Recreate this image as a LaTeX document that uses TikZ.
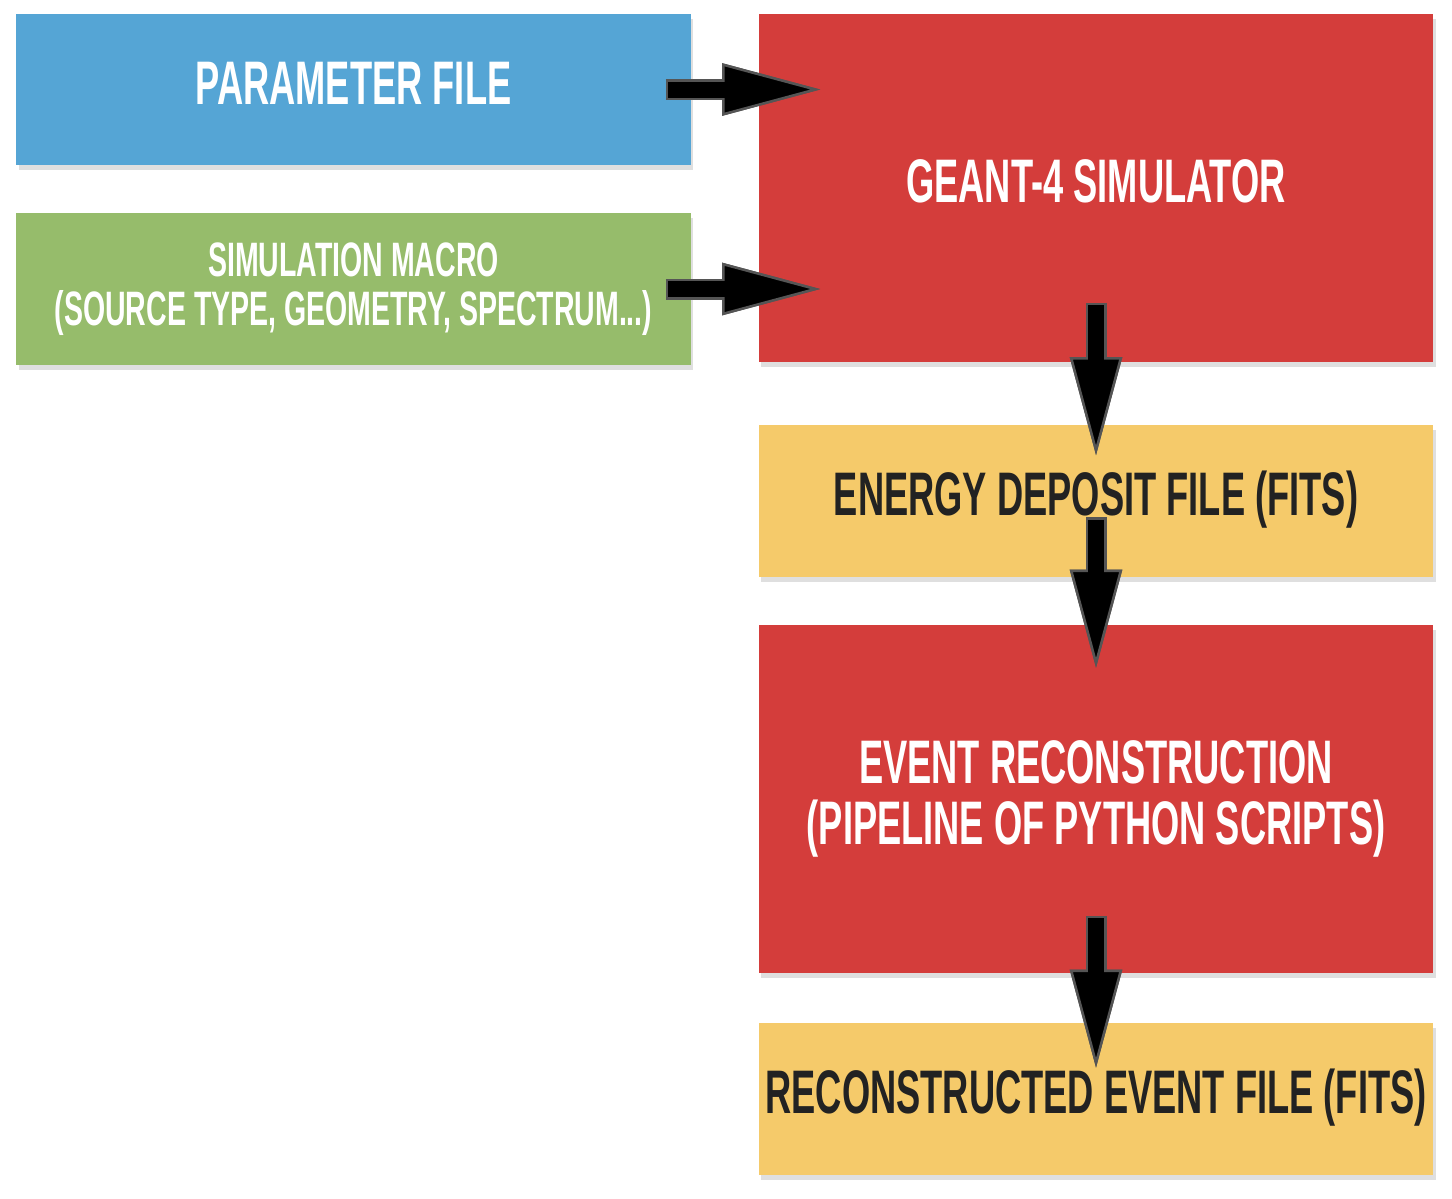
\documentclass[tikz,border=0pt]{standalone}
\usepackage{fontspec}
\setmainfont{Liberation Sans}[FakeStretch=0.59]
\usetikzlibrary{arrows.meta, positioning, calc, shadows}
\definecolor{cblue}{HTML}{55A5D5}
\definecolor{cgreen}{HTML}{96BC6B}
\definecolor{cred}{HTML}{D43D3B}
\definecolor{cyellow}{HTML}{F5CA6A}
\definecolor{cdark}{HTML}{222222}
\definecolor{cgrey}{HTML}{555555}
\tikzset{
  every picture/.style={x=0.02cm, y=-0.02cm},
  box/.style={fill=#1, draw=none, align=center, inner sep=0pt, minimum width=13.5cm,
    drop shadow={shadow xshift=0.05cm, shadow yshift=-0.1cm, opacity=0.25}},
  short/.style={minimum height=3.04cm},
  tall/.style={minimum height=6.96cm},
  big/.style={font=\fontsize{35}{35}\selectfont\bfseries},
  oneline/.style={text height=0.9cm, text depth=0.32cm},
  small/.style={font=\fontsize{27.5}{27.5}\selectfont\bfseries},
  fatarrow/.style={draw=black, line width=0.32cm,
    -{Triangle[length=1.96cm, width=1.04cm, line width=0.05cm, color=cgrey, fill=black]},
    preaction={draw=cgrey, line width=0.42cm, shorten <=-0.05cm,
      -{Triangle[length=1.96cm, width=1.04cm, line width=0.05cm, color=cgrey]}},
    postaction={draw=black, line width=0.32cm, -, shorten >=1.5cm}},
}

\begin{document}
\begin{tikzpicture}
  \useasboundingbox (0,0) rectangle (1452,1198);
  % inputs
  \node[box=cblue, short, big, oneline, text=white] (param) at (353.5,89.5) {PARAMETER FILE};
  \node[box=cgreen, short, small, text=white] (macro) at (353.5,289) {SIMULATION MACRO\\(SOURCE TYPE, GEOMETRY, SPECTRUM...)};
  % chain
  \node[box=cred, tall, big, oneline, text=white] (geant) at (1096,188) {GEANT-4 SIMULATOR};
  \node[box=cyellow, short, big, oneline, text=cdark] (edep) at (1096,500.5) {ENERGY DEPOSIT FILE (FITS)};
  \node[box=cred, tall, big, text=white] (reco) at (1096,799) {EVENT RECONSTRUCTION\\(PIPELINE OF PYTHON SCRIPTS)};
  \node[box=cyellow, short, big, oneline, text=cdark] (evt) at (1096,1099) {RECONSTRUCTED EVENT FILE (FITS)};
  % arrows
  \draw[fatarrow] ($(param.east)+(-23,0)$) -- ($(param.east -| geant.west)+(62,0)$);
  \draw[fatarrow] ($(macro.east)+(-23,0)$) -- ($(macro.east -| geant.west)+(62,0)$);
  \draw[fatarrow] ($(geant.south)+(0,-57)$) -- ($(edep.north)+(0,31)$);
  \draw[fatarrow] ($(edep.south)+(0,-57)$) -- ($(reco.north)+(0,43)$);
  \draw[fatarrow] ($(reco.south)+(0,-55)$) -- ($(evt.north)+(0,45)$);
\end{tikzpicture}
\end{document}
